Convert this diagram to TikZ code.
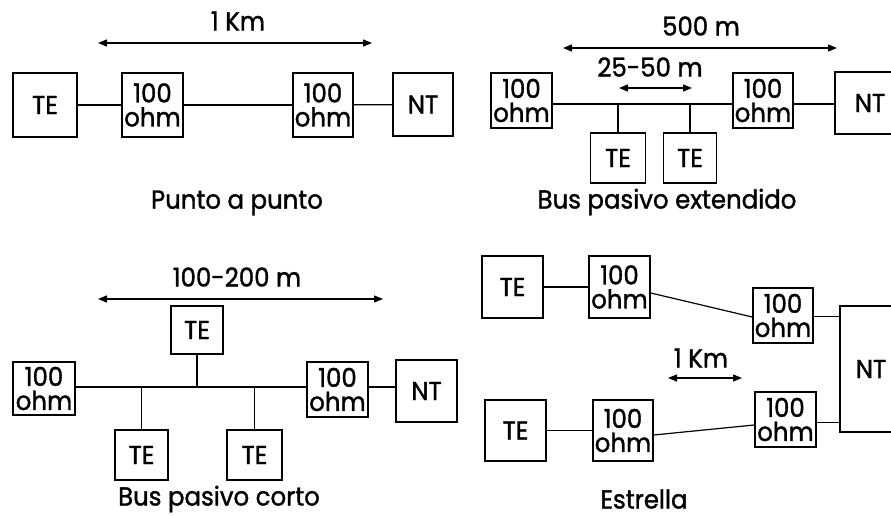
\documentclass[tikz,border=0pt]{standalone}
\usepackage{fontspec}
\setmainfont[FakeStretch=0.94,FakeBold=1.3]{Poppins}
\usetikzlibrary{arrows.meta}
\begin{document}
\begin{tikzpicture}[x=1pt,y=-1pt,
  box/.style={draw=black,line width=1.5pt,rectangle,inner sep=0pt,font=\fontsize{26}{26}\selectfont},
  res/.style={box,align=center,font=\fontsize{26}{24}\selectfont},
  wire/.style={line width=1.2pt},
  dim/.style={line width=1.3pt,{Triangle[length=9pt,width=7pt]}-{Triangle[length=9pt,width=7pt]}},
  lbl/.style={inner sep=0pt,font=\fontsize{26}{26}\selectfont}]
\clip (0,0) rectangle (891,516);
\fill[white] (0,0) rectangle (891,516);
% ---------- Punto a punto ----------
\node[box,minimum width=64pt,minimum height=64pt] (te1) at (45,105) {TE};
\node[res,minimum width=61pt,minimum height=64pt] (r1) at (152.5,105) {100\\ohm};
\node[res,minimum width=60pt,minimum height=64pt] (r2) at (323,105) {100\\ohm};
\node[box,minimum width=60pt,minimum height=63pt] (nt1) at (423,104.5) {NT};
\draw[wire] (te1) -- (r1);
\draw[wire] (r1) -- (r2);
\draw[wire] (r2) -- (nt1);
\coordinate (d1l) at (98,43); \coordinate (d1r) at (372,43);
\draw[dim] (d1l) -- (d1r);
\node[lbl] (t1) at (238,21) {1 Km};
\node[lbl] (c1) at (237,203) {Punto a punto};
% ---------- Bus pasivo extendido ----------
\node[res,minimum width=61pt,minimum height=55pt] (r3) at (521.5,100.5) {100\\ohm};
\node[res,minimum width=60pt,minimum height=55pt] (r4) at (763,100.5) {100\\ohm};
\node[box,minimum width=70pt,minimum height=62pt] (nt2) at (870,103) {NT};
\node[box,minimum width=55pt,minimum height=50pt] (te2) at (618,158) {TE};
\node[box,minimum width=53pt,minimum height=50pt] (te3) at (690,158) {TE};
\coordinate (b2l) at (552,104); \coordinate (b2r) at (733,104);
\draw[wire] (b2l) -- (b2r);
\draw[wire] (r4.east |- b2r) -- (nt2.west |- b2r);
\draw[wire] (te2.north) -- (te2.north |- b2l);
\draw[wire] (te3.north) -- (te3.north |- b2l);
\coordinate (d2l) at (563,48); \coordinate (d2r) at (837,48);
\draw[dim] (d2l) -- (d2r);
\coordinate (d3l) at (619,88); \coordinate (d3r) at (692,88);
\draw[dim] (d3l) -- (d3r);
\node[lbl] (t2) at (701,26) {500 m};
\node[lbl] (t3) at (650,67) {25-50 m};
\node[lbl] (c2) at (667,202) {Bus pasivo extendido};
% ---------- Bus pasivo corto ----------
\node[box,minimum width=52pt,minimum height=48pt] (te4) at (197,330) {TE};
\node[res,minimum width=62pt,minimum height=53pt] (r5) at (44,388.5) {100\\ohm};
\node[res,minimum width=61pt,minimum height=55pt] (r6) at (337.5,389.5) {100\\ohm};
\node[box,minimum width=61pt,minimum height=62pt] (nt3) at (426.5,391) {NT};
\node[box,minimum width=53pt,minimum height=50pt] (te5) at (141.5,455) {TE};
\node[box,minimum width=55pt,minimum height=50pt] (te6) at (254.5,455) {TE};
\coordinate (b3l) at (75,387); \coordinate (b3r) at (307,387);
\draw[wire] (b3l) -- (b3r);
\draw[wire] (r6.east |- b3r) -- (nt3.west |- b3r);
\draw[wire] (te4.south) -- (te4.south |- b3l);
\draw[wire] (te5.north) -- (te5.north |- b3l);
\draw[wire] (te6.north) -- (te6.north |- b3l);
\coordinate (d4l) at (98,299); \coordinate (d4r) at (383,299);
\draw[dim] (d4l) -- (d4r);
\node[lbl] (t4) at (237,277) {100-200 m};
\node[lbl] (c3) at (219,499) {Bus pasivo corto};
% ---------- Estrella ----------
\node[box,minimum width=61pt,minimum height=62pt] (te7) at (512.5,287) {TE};
\node[res,minimum width=61pt,minimum height=62pt] (r7) at (619.5,287) {100\\ohm};
\node[res,minimum width=60pt,minimum height=55pt] (r8) at (783,315.5) {100\\ohm};
\node[box,minimum width=62pt,minimum height=126pt] (nt4) at (871,369) {NT};
\node[box,minimum width=61pt,minimum height=61pt] (te8) at (515.5,430.5) {TE};
\node[res,minimum width=60pt,minimum height=61pt] (r9) at (623,430.5) {100\\ohm};
\node[res,minimum width=61pt,minimum height=55pt] (r10) at (785.5,419.5) {100\\ohm};
\draw[wire] (te7) -- (r7);
\draw[wire] ([yshift=-6pt]r7.east) -- ([yshift=-1.5pt]r8.west);
\draw[wire] ([yshift=-1pt]r8.east) -- ([yshift=-1pt]r8.east -| nt4.west);
\draw[wire] (te8) -- (r9);
\draw[wire] ([yshift=-4.5pt]r9.east) -- ([yshift=-5.5pt]r10.west);
\draw[wire] ([yshift=-3pt]r10.east) -- ([yshift=-3pt]r10.east -| nt4.west);
\coordinate (d5l) at (668,378); \coordinate (d5r) at (742,378);
\draw[dim] (d5l) -- (d5r);
\node[lbl] (t5) at (701,358) {1 Km};
\node[lbl] (c4) at (644,499) {Estrella};
\end{tikzpicture}
\end{document}
